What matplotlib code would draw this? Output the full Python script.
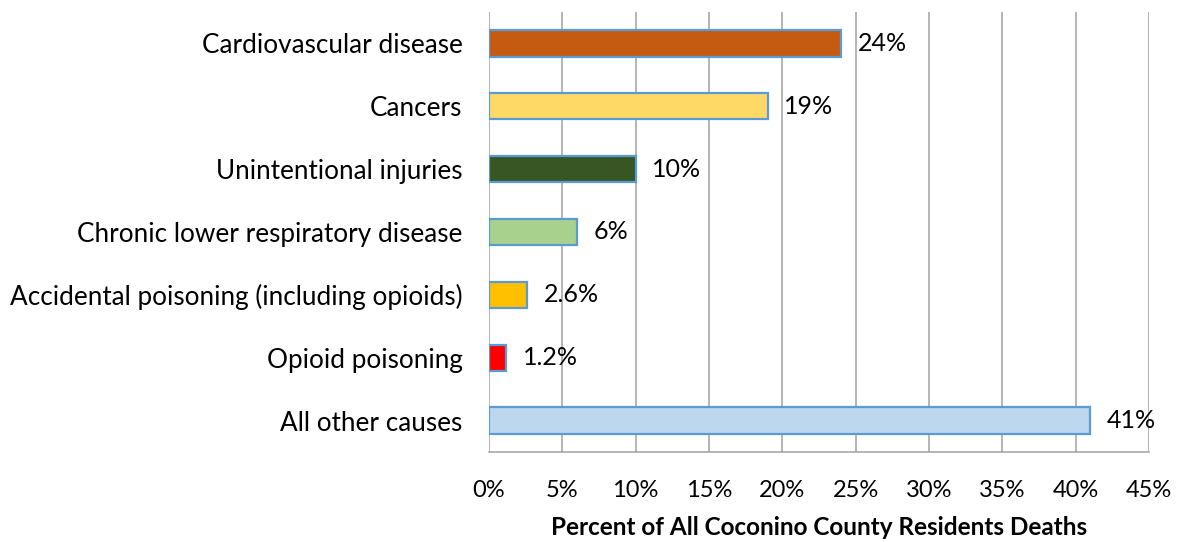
import matplotlib
matplotlib.use("Agg")
import matplotlib.pyplot as plt
from matplotlib.ticker import FuncFormatter, MultipleLocator

categories = ["Cardiovascular disease", "Cancers", "Unintentional injuries",
              "Chronic lower respiratory disease",
              "Accidental poisoning (including opioids)", "Opioid poisoning",
              "All other causes"]
values = [24, 19, 10, 6, 2.6, 1.2, 41]
value_labels = ["24%", "19%", "10%", "6%", "2.6%", "1.2%", "41%"]
colors = ["#C55A11", "#FFD966", "#375623", "#A9D18E", "#FFC000", "#FF0000", "#BDD7EE"]
xlabel = "Percent of All Coconino County Residents Deaths"

plt.rcParams['font.family'] = ['Lato', 'DejaVu Sans']

fig = plt.figure(figsize=(11.78, 5.42), dpi=100)
ax = fig.add_axes([0.415, 0.166, 0.5605, 0.812])

y = list(range(len(categories)))
ax.barh(y, values, height=0.42, color=colors, edgecolor="#5B9BD5", linewidth=1.6, zorder=3)
for yi, v, lab in zip(y, values, value_labels):
    ax.annotate(lab, (v, yi), xytext=(12, 0), textcoords="offset points",
                va="center", ha="left", fontsize=18, color="black", zorder=4)

ax.set_xlim(0, 45)
ax.set_ylim(len(categories) - 0.5, -0.5)
ax.set_yticks(y)
ax.set_yticklabels(categories, fontsize=18.8)
ax.xaxis.set_major_locator(MultipleLocator(5))
ax.xaxis.set_major_formatter(FuncFormatter(lambda v, p: f"{v:.0f}%"))
ax.tick_params(axis="x", labelsize=17, length=0, pad=20)
ax.tick_params(axis="y", length=0, pad=19)
ax.grid(axis="x", color="#A0A0A0", linewidth=1.1, zorder=0)
for s in ["top", "right", "left"]:
    ax.spines[s].set_visible(False)
ax.spines["bottom"].set_color("#A0A0A0")
ax.spines["bottom"].set_linewidth(1.1)
ax.set_xlabel(xlabel, fontsize=17.5, fontweight="bold", labelpad=11)

fig.savefig("out.png", dpi=100)
